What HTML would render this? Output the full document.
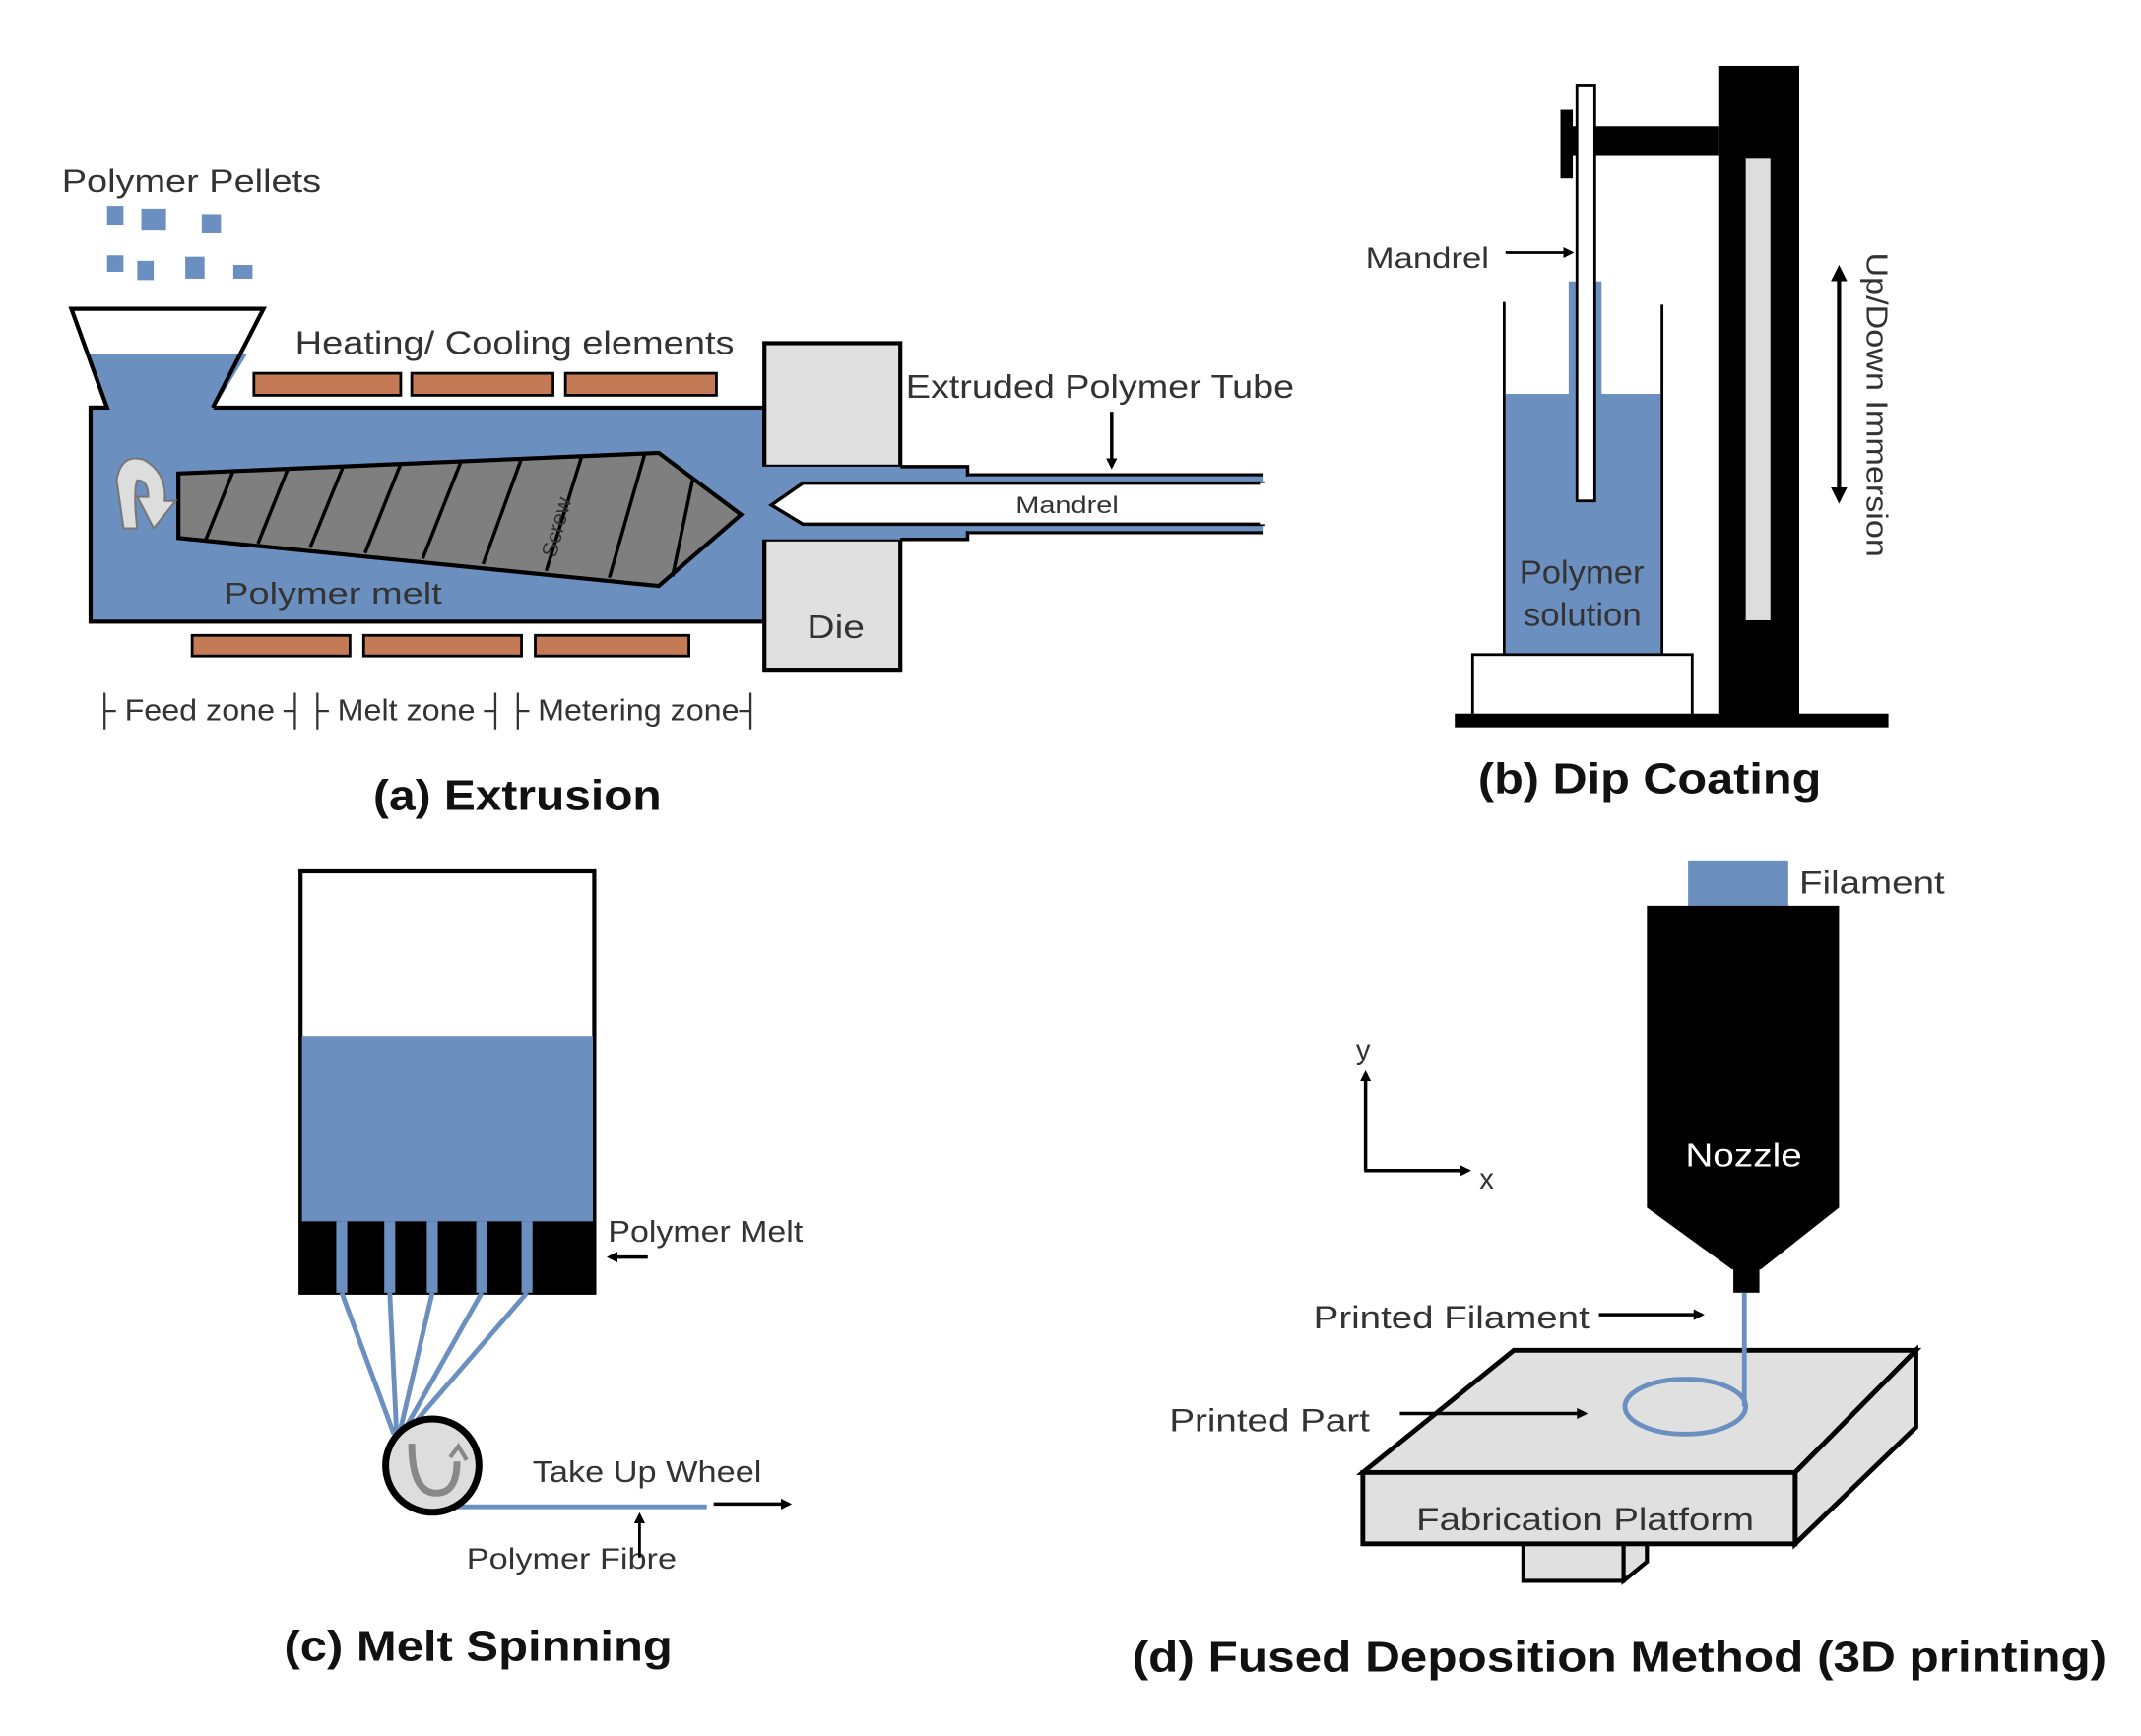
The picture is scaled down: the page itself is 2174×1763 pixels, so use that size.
<!DOCTYPE html>
<html><head><meta charset="utf-8"><style>
html,body{margin:0;padding:0;background:#fff}
svg{display:block}
text{font-family:"Liberation Sans",sans-serif;fill:#333}
.t{font-weight:bold;fill:#111;font-size:31px}
.w{fill:#fff}
</style></head><body>
<svg width="2174" height="1763" viewBox="0 0 1560 1265" xmlns="http://www.w3.org/2000/svg">
<defs>
<marker id="ah" markerWidth="8" markerHeight="8" refX="6" refY="4" orient="auto" markerUnits="userSpaceOnUse"><path d="M0,0 L8,4 L0,8 z" fill="#000"/></marker>
<marker id="ahb" markerWidth="12" markerHeight="12" refX="9" refY="6" orient="auto-start-reverse" markerUnits="userSpaceOnUse"><path d="M0,0 L12,6 L0,12 z" fill="#000"/></marker>
</defs>
<rect width="1560" height="1265" fill="#fff"/>

<!-- (a) Extrusion -->
<text x="45" y="140" font-size="23" textLength="189" lengthAdjust="spacingAndGlyphs">Polymer Pellets</text>
<g fill="#6a8fc0">
<rect x="78" y="150" width="12" height="14"/><rect x="103" y="152" width="18" height="16"/><rect x="147" y="156" width="14" height="14"/>
<rect x="78" y="186" width="12" height="12"/><rect x="100" y="190" width="12" height="14"/><rect x="135" y="187" width="14" height="16"/><rect x="170" y="193" width="14" height="10"/>
</g>
<rect x="66" y="297" width="491" height="156" fill="#6b90c0" stroke="#000" stroke-width="3"/>
<polygon points="64,258 180,258 155,299 80,299" fill="#6b90c0"/>
<polygon points="52,225 192,225 180,258 64,258" fill="#fff"/>
<polyline points="66,297 78,297 52,225 192,225 155,297" fill="none" stroke="#000" stroke-width="3"/>
<line x1="80" y1="297" x2="153" y2="297" stroke="#6b90c0" stroke-width="5"/>
<g fill="#c47a55" stroke="#000" stroke-width="2">
<rect x="185" y="272" width="107" height="16"/><rect x="300" y="272" width="103" height="16"/><rect x="412" y="272" width="110" height="16"/>
<rect x="140" y="463" width="115" height="15"/><rect x="265" y="463" width="115" height="15"/><rect x="390" y="463" width="112" height="15"/>
</g>
<text x="215" y="258" font-size="24" textLength="320" lengthAdjust="spacingAndGlyphs">Heating/ Cooling elements</text>
<polygon points="130,345 480,330 540,375 480,427 130,392" fill="#7f7f7f" stroke="#000" stroke-width="3"/>
<g stroke="#000" stroke-width="2.5">
<line x1="170" y1="343" x2="150" y2="393"/><line x1="210" y1="341" x2="188" y2="396"/><line x1="250" y1="340" x2="226" y2="399"/>
<line x1="292" y1="338" x2="266" y2="403"/><line x1="336" y1="336" x2="308" y2="407"/><line x1="380" y1="334" x2="352" y2="411"/>
<line x1="424" y1="332" x2="398" y2="416"/><line x1="470" y1="330" x2="444" y2="421"/><line x1="505" y1="348" x2="490" y2="420"/>
</g>
<text x="0" y="0" font-size="16" transform="translate(405,407) rotate(-75)">Screw</text>
<path d="M90,385 L85,350 Q88,330 105,335 Q122,345 120,365 L128,365 L112,385 L100,362 L108,362 Q108,350 100,350 Q97,358 100,385 z" fill="#ddd" stroke="#777" stroke-width="1.5"/>
<text x="163" y="440" font-size="22" textLength="159" lengthAdjust="spacingAndGlyphs">Polymer melt</text>
<rect x="557" y="250" width="99" height="90" fill="#e0e0e0" stroke="#000" stroke-width="3"/>
<rect x="557" y="393" width="99" height="95" fill="#e0e0e0" stroke="#000" stroke-width="3"/>
<text x="588" y="465" font-size="24" textLength="42" lengthAdjust="spacingAndGlyphs">Die</text>
<rect x="555" y="340" width="150" height="53" fill="#6b90c0"/>
<polyline points="656,340 705,340 705,346 920,346" fill="none" stroke="#000" stroke-width="2.5"/>
<polyline points="656,393 705,393 705,388 920,388" fill="none" stroke="#000" stroke-width="2.5"/>
<rect x="705" y="347" width="215" height="6" fill="#6b90c0"/>
<rect x="705" y="381" width="215" height="6" fill="#6b90c0"/>
<polygon points="562,368 585,352 920,352 920,382 585,382" fill="#fff" stroke="#000" stroke-width="2.5"/>
<rect x="918" y="352" width="6" height="30" fill="#fff"/>
<text x="740" y="374" font-size="17" textLength="75" lengthAdjust="spacingAndGlyphs">Mandrel</text>
<text x="660" y="290" font-size="24" textLength="283" lengthAdjust="spacingAndGlyphs">Extruded Polymer Tube</text>
<line x1="810" y1="300" x2="810" y2="340" stroke="#000" stroke-width="2.5" marker-end="url(#ah)"/>
<text x="68" y="525" font-size="22" textLength="487" lengthAdjust="spacingAndGlyphs">├ Feed zone ┤├ Melt zone ┤├ Metering zone┤</text>
<text class="t" x="272" y="590" textLength="210" lengthAdjust="spacingAndGlyphs">(a) Extrusion</text>

<!-- (b) Dip coating -->
<rect x="1252" y="48" width="59" height="477" fill="#000"/>
<rect x="1272" y="115" width="18" height="337" fill="#ddd"/>
<rect x="1140" y="92" width="112" height="21" fill="#000"/>
<rect x="1137" y="80" width="9" height="50" fill="#000"/>
<rect x="1143" y="205" width="24" height="85" fill="#6b90c0"/>
<rect x="1097" y="287" width="113" height="190" fill="#6b90c0"/>
<line x1="1096" y1="220" x2="1096" y2="477" stroke="#000" stroke-width="2"/>
<line x1="1211" y1="222" x2="1211" y2="477" stroke="#000" stroke-width="2"/>
<rect x="1149" y="62" width="13" height="303" fill="#fff" stroke="#000" stroke-width="2"/>
<rect x="1073" y="477" width="160" height="45" fill="#fff" stroke="#000" stroke-width="2"/>
<rect x="1060" y="520" width="316" height="10" fill="#000"/>
<text x="1107" y="425" font-size="24" textLength="91" lengthAdjust="spacingAndGlyphs">Polymer</text>
<text x="1110" y="456" font-size="24" textLength="86" lengthAdjust="spacingAndGlyphs">solution</text>
<text x="995" y="195" font-size="21" textLength="90" lengthAdjust="spacingAndGlyphs">Mandrel</text>
<line x1="1097" y1="184" x2="1145" y2="184" stroke="#000" stroke-width="2" marker-end="url(#ah)"/>
<line x1="1340" y1="196" x2="1340" y2="364" stroke="#000" stroke-width="3" marker-start="url(#ahb)" marker-end="url(#ahb)"/>
<text x="0" y="0" font-size="22" transform="translate(1360,184) rotate(90)" textLength="222" lengthAdjust="spacingAndGlyphs">Up/Down Immersion</text>
<text class="t" x="1077" y="578" textLength="250" lengthAdjust="spacingAndGlyphs">(b) Dip Coating</text>

<!-- (c) Melt spinning -->
<rect x="219" y="635" width="214" height="307" fill="#fff" stroke="#000" stroke-width="3"/>
<rect x="220" y="755" width="212" height="136" fill="#6b90c0"/>
<rect x="219" y="890" width="214" height="52" fill="#000"/>
<g fill="#6b90c0">
<rect x="245" y="890" width="8" height="52"/><rect x="280" y="890" width="8" height="52"/><rect x="311" y="890" width="8" height="52"/><rect x="347" y="890" width="8" height="52"/><rect x="380" y="890" width="8" height="52"/>
</g>
<g stroke="#6b90c0" stroke-width="3.5">
<line x1="249" y1="942" x2="287" y2="1045"/><line x1="284" y1="942" x2="289" y2="1045"/><line x1="315" y1="942" x2="291" y2="1045"/><line x1="351" y1="942" x2="293" y2="1045"/><line x1="384" y1="942" x2="295" y2="1045"/>
<line x1="320" y1="1098" x2="515" y2="1098"/>
</g>
<circle cx="315" cy="1068" r="34" fill="#ddd" stroke="#000" stroke-width="5"/>
<path d="M300,1052 Q300,1088 318,1088 Q333,1088 333,1065" fill="none" stroke="#888" stroke-width="5"/>
<path d="M328,1062 L334,1054 L340,1064" fill="none" stroke="#888" stroke-width="3"/>
<line x1="520" y1="1096" x2="575" y2="1096" stroke="#000" stroke-width="2.5" marker-end="url(#ah)"/>
<text x="443" y="905" font-size="22" textLength="142" lengthAdjust="spacingAndGlyphs">Polymer Melt</text>
<line x1="472" y1="916" x2="444" y2="916" stroke="#000" stroke-width="2.5" marker-end="url(#ah)"/>
<text x="388" y="1080" font-size="22" textLength="167" lengthAdjust="spacingAndGlyphs">Take Up Wheel</text>
<text x="340" y="1143" font-size="21" textLength="153" lengthAdjust="spacingAndGlyphs">Polymer Fibre</text>
<line x1="466" y1="1135" x2="466" y2="1104" stroke="#000" stroke-width="2" marker-end="url(#ah)"/>
<text class="t" x="207" y="1210" textLength="283" lengthAdjust="spacingAndGlyphs">(c) Melt Spinning</text>

<!-- (d) FDM -->
<rect x="1230" y="627" width="73" height="34" fill="#6b90c0"/>
<polygon points="1200,660 1340,660 1340,880 1283,925 1262,925 1200,880" fill="#000"/>
<rect x="1263" y="920" width="19" height="22" fill="#000"/>
<text class="w" x="1228" y="850" font-size="24" textLength="85" lengthAdjust="spacingAndGlyphs">Nozzle</text>
<text x="1311" y="651" font-size="23" textLength="106" lengthAdjust="spacingAndGlyphs">Filament</text>
<line x1="995" y1="853" x2="995" y2="782" stroke="#000" stroke-width="2.5" marker-end="url(#ah)"/>
<line x1="994" y1="853" x2="1070" y2="853" stroke="#000" stroke-width="2.5" marker-end="url(#ah)"/>
<text x="988" y="772" font-size="21">y</text>
<text x="1078" y="866" font-size="21">x</text>
<polygon points="1110,1123 1183,1123 1183,1152 1110,1152" fill="#e0e0e0" stroke="#000" stroke-width="3"/>
<polygon points="1183,1123 1200,1123 1200,1138 1183,1152" fill="#e0e0e0" stroke="#000" stroke-width="3"/>
<polygon points="993,1073 1103,984 1396,984 1308,1073" fill="#e0e0e0" stroke="#000" stroke-width="3.5"/>
<polygon points="1308,1073 1396,984 1396,1040 1308,1125" fill="#e0e0e0" stroke="#000" stroke-width="3.5"/>
<rect x="993" y="1073" width="315" height="52" fill="#e0e0e0" stroke="#000" stroke-width="3.5"/>
<text x="1032" y="1115" font-size="23" textLength="246" lengthAdjust="spacingAndGlyphs">Fabrication Platform</text>
<line x1="1271" y1="942" x2="1271" y2="1025" stroke="#6b90c0" stroke-width="3.5"/>
<ellipse cx="1228" cy="1025" rx="44" ry="20" fill="none" stroke="#6b90c0" stroke-width="3.5"/>
<text x="957" y="968" font-size="23" textLength="201" lengthAdjust="spacingAndGlyphs">Printed Filament</text>
<line x1="1165" y1="958" x2="1240" y2="958" stroke="#000" stroke-width="2.5" marker-end="url(#ah)"/>
<text x="852" y="1043" font-size="23" textLength="146" lengthAdjust="spacingAndGlyphs">Printed Part</text>
<line x1="1020" y1="1030" x2="1155" y2="1030" stroke="#000" stroke-width="2.5" marker-end="url(#ah)"/>
<text class="t" x="825" y="1218" textLength="710" lengthAdjust="spacingAndGlyphs">(d) Fused Deposition Method (3D printing)</text>
</svg>
</body></html>
